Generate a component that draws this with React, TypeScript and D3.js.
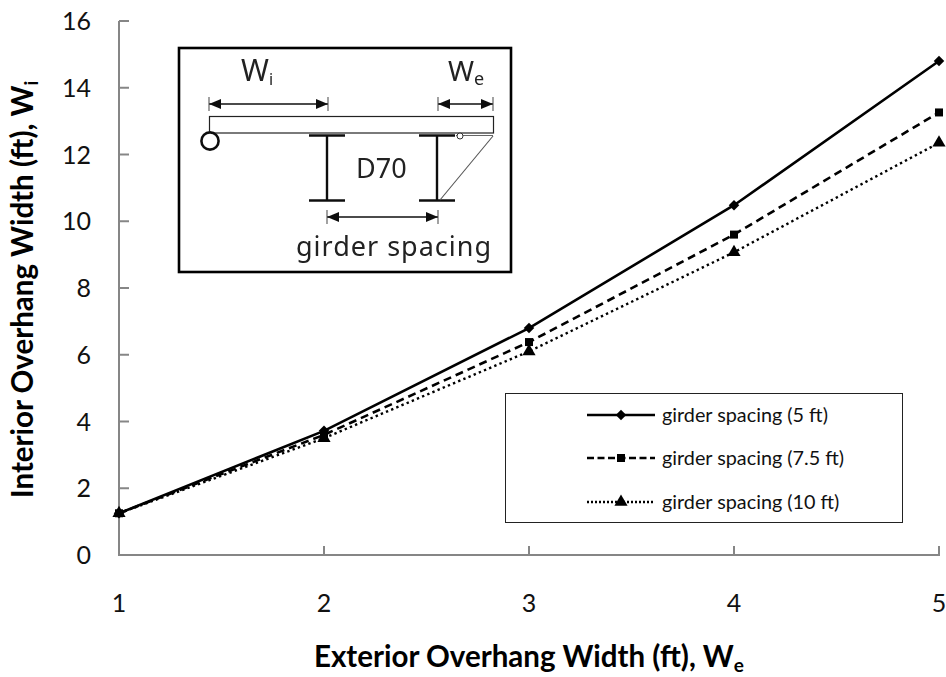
import React from "react";
import * as d3 from "d3";

const xValues = [1, 2, 3, 4, 5];
const spacing5 = [1.25, 3.72, 6.8, 10.48, 14.8];
const spacing75 = [1.25, 3.6, 6.38, 9.6, 13.26];
const spacing10 = [1.25, 3.5, 6.1, 9.07, 12.35];
const yTicks = [0, 2, 4, 6, 8, 10, 12, 14, 16];
const legendLabels = ["girder spacing (5 ft)", "girder spacing (7.5 ft)", "girder spacing (10 ft)"];

const FONT = "Lato, Carlito, sans-serif";
const INSET = "'Noto Sans', 'Open Sans', sans-serif";
const GREY = "#868686";

const x = d3.scaleLinear().domain([1, 5]).range([119, 939]);
const y = d3.scaleLinear().domain([0, 16]).range([555, 21]);

const diamond = d3.symbol().type(d3.symbolDiamond2).size(70);
const square = d3.symbol().type(d3.symbolSquare).size(64);
const triangle = d3.symbol().type(d3.symbolTriangle).size(75);

const seriesList = [
  { values: spacing5, dash: undefined as string | undefined, legendDash: undefined as string | undefined, width: 2.6, marker: diamond },
  { values: spacing75, dash: "8 5", legendDash: "7 3.5", width: 2.6, marker: square },
  { values: spacing10, dash: "2.4 3.2", legendDash: "2 2", width: 2.4, marker: triangle },
];

function Arrow({ x1, x2, yy }: { x1: number; x2: number; yy: number }) {
  return (
    <g stroke="#111" fill="#111">
      <line x1={x1} x2={x2} y1={yy} y2={yy} strokeWidth={1.3} />
      <line x1={x1} x2={x1} y1={yy - 7} y2={yy + 7} strokeWidth={1.1} stroke="#555" />
      <line x1={x2} x2={x2} y1={yy - 7} y2={yy + 7} strokeWidth={1.1} stroke="#555" />
      <path d={`M${x1},${yy}l12,-5v10z`} stroke="none" />
      <path d={`M${x2},${yy}l-12,-5v10z`} stroke="none" />
    </g>
  );
}

function IBeam({ cx }: { cx: number }) {
  return (
    <g stroke="#111">
      <line x1={cx - 18} x2={cx + 18} y1={135.5} y2={135.5} strokeWidth={2.4} />
      <line x1={cx - 18} x2={cx + 18} y1={200.5} y2={200.5} strokeWidth={2.4} />
      <line x1={cx} x2={cx} y1={135.5} y2={200.5} strokeWidth={2.4} />
    </g>
  );
}

function Inset() {
  return (
    <g filter="url(#soft)">
      <rect x={179} y={48} width={332} height={224} fill="#fff" stroke="#000" strokeWidth={2.6} />
      <text x={241} y={81} fontFamily={INSET} fontSize={30} fill="#222">
        W<tspan fontSize={16} dy={4}>i</tspan>
      </text>
      <text x={448} y={81} fontFamily={INSET} fontSize={28} fill="#222">
        W<tspan fontSize={18} dy={4}>e</tspan>
      </text>
      <Arrow x1={209} x2={328} yy={104} />
      <Arrow x1={438} x2={493} yy={104} />
      <rect x={209.5} y={116.5} width={284} height={16.5} fill="none" stroke="#222" strokeWidth={1.2} />
      <circle cx={210} cy={141} r={8.6} fill="#fff" stroke="#111" strokeWidth={2.6} />
      <IBeam cx={327} />
      <IBeam cx={437} />
      <line x1={456} x2={493} y1={135.5} y2={135.5} stroke="#666" strokeWidth={1} />
      <line x1={440} x2={493} y1={200} y2={136} stroke="#555" strokeWidth={1.1} />
      <circle cx={460} cy={136} r={3} fill="#fff" stroke="#333" strokeWidth={1} />
      <text x={356} y={178} fontFamily={INSET} fontSize={27} fill="#222">D70</text>
      <Arrow x1={327} x2={438} yy={217} />
      <text x={296} y={256} fontFamily={INSET} fontSize={27} fill="#222" textLength={195} lengthAdjust="spacing">girder spacing</text>
    </g>
  );
}

function Legend() {
  const rows = [415, 458, 502];
  const lx = d3.scaleLinear().domain([0, 1]).range([587, 655]);
  return (
    <g>
      <rect x={505.5} y={393.5} width={397} height={129} fill="#fff" stroke="#222" strokeWidth={1} />
      {seriesList.map((s, i) => (
        <g key={i}>
          <line x1={lx(0)} x2={lx(1)} y1={rows[i]} y2={rows[i]} stroke="#000" strokeWidth={s.width} strokeDasharray={s.legendDash} />
          <path d={s.marker()!} transform={`translate(${lx(0.5)},${rows[i]})`} fill="#000" />
          <text x={662} y={rows[i] + 7} fontFamily={FONT} fontSize={19.8} fill="#111">{legendLabels[i]}</text>
        </g>
      ))}
    </g>
  );
}

export default function App() {
  const line = d3.line<number>().x((_, i) => x(xValues[i])).y((d) => y(d));
  return (
    <svg width={946} height={677} style={{ position: "absolute", left: 0, top: 0, background: "#fff" }}>
      <defs>
        <filter id="soft" x="-2%" y="-2%" width="104%" height="104%">
          <feGaussianBlur stdDeviation={0.35} />
        </filter>
      </defs>
      <g stroke={GREY} strokeWidth={2}>
        <line x1={119} x2={119} y1={y(16)} y2={y(0)} />
        <line x1={118} x2={940} y1={y(0)} y2={y(0)} />
        {yTicks.map((t) => <line key={t} x1={119} x2={129} y1={y(t)} y2={y(t)} />)}
        {xValues.map((t) => <line key={t} x1={x(t)} x2={x(t)} y1={y(0)} y2={y(0) - 9} />)}
      </g>
      <g fontFamily={FONT} fontSize={25} fill="#111">
        {yTicks.map((t) => (
          <text key={t} x={91} y={y(t) + 9} textAnchor="end">{t}</text>
        ))}
        {xValues.map((t) => (
          <text key={t} x={x(t)} y={612} textAnchor="middle">{t}</text>
        ))}
      </g>
      <text x={314} y={667} fontFamily={FONT} fontSize={29.5} fontWeight={700} fill="#000">
        Exterior Overhang Width (ft), W<tspan fontSize={19} dy={5}>e</tspan>
      </text>
      <text transform="translate(33,498) rotate(-90)" fontFamily={FONT} fontSize={29.5} fontWeight={700} fill="#000">
        Interior Overhang Width (ft), W<tspan fontSize={19} dy={5}>i</tspan>
      </text>
      <Inset />
      <Legend />
      {seriesList.map((s, i) => (
        <g key={i}>
          <path d={line(s.values)!} fill="none" stroke="#000" strokeWidth={s.width} strokeDasharray={s.dash} />
          {s.values.map((v, j) => (
            <path key={j} d={s.marker()!} transform={`translate(${x(xValues[j])},${y(v)})`} fill="#000" />
          ))}
        </g>
      ))}
    </svg>
  );
}
